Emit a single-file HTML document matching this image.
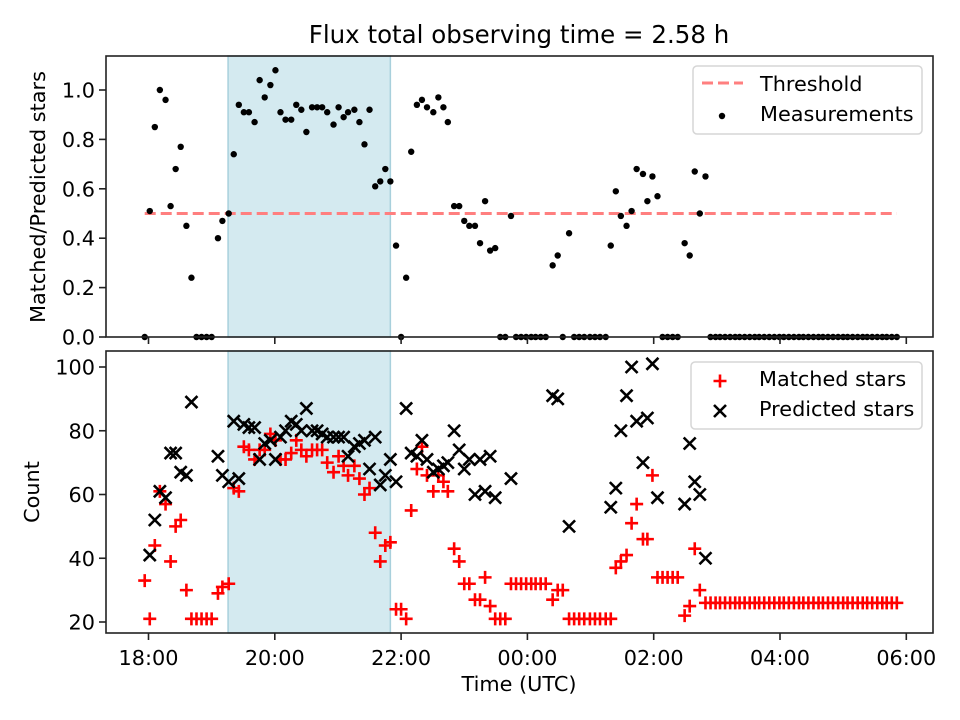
<!DOCTYPE html>
<html><head><meta charset="utf-8"><style>
html,body{margin:0;padding:0;background:#fff;}
svg{display:block;font-family:"DejaVu Sans","Liberation Sans",sans-serif;}
</style></head><body>
<svg id="fig" width="960" height="720" viewBox="0 0 960 720"></svg>
<script>
// time offsets (hours after 18:00)
const times = [-0.06,0.02,0.10,0.18,0.27,0.35,0.43,0.51,0.60,0.68,0.76,0.84,0.92,1.00,1.10,1.17,1.27,1.35,1.43,1.51,1.59,1.68,1.76,1.84,1.93,2.01,2.09,2.17,2.26,2.34,2.42,2.50,2.59,2.67,2.75,2.83,2.93,3.01,3.09,3.16,3.26,3.34,3.42,3.50,3.59,3.67,3.75,3.83,3.92,4.00,4.08,4.16,4.25,4.33,4.41,4.51,4.59,4.67,4.74,4.84,4.92,5.00,5.08,5.17,5.25,5.33,5.41,5.49,5.57,5.65,5.74,5.82,5.90,5.98,6.06,6.13,6.21,6.29,6.40,6.48,6.56,6.66,6.74,6.82,6.90,6.99,7.07,7.15,7.24,7.32,7.40,7.48,7.57,7.65,7.73,7.83,7.90,7.98,8.06,8.14,8.22,8.30,8.38,8.49,8.57,8.65,8.73,8.82,8.90,8.98,9.05,9.13,9.21,9.29,9.36,9.44,9.52,9.60,9.67,9.75,9.83,9.91,9.99,10.06,10.14,10.22,10.30,10.37,10.45,10.53,10.61,10.68,10.76,10.84,10.92,11.00,11.07,11.15,11.23,11.31,11.38,11.46,11.54,11.62,11.69,11.77,11.85];
const ratio = [0,0.51,0.85,1.00,0.96,0.53,0.68,0.77,0.45,0.24,0,0,0,0,0.40,0.47,0.50,0.74,0.94,0.91,0.91,0.87,1.04,0.97,1.02,1.08,0.91,0.88,0.88,0.94,0.92,0.83,0.93,0.93,0.93,0.91,0.86,0.93,0.89,0.91,0.92,0.87,0.78,0.92,0.61,0.63,0.68,0.63,0.37,0,0.24,0.75,0.94,0.96,0.93,0.91,0.97,0.93,0.87,0.53,0.53,0.47,0.45,0.45,0.38,0.55,0.35,0.36,0,0,0.49,0,0,0,0,0,0,0,0.29,0.33,0,0.42,0,0,0,0,0,0,0,0.37,0.59,0.49,0.45,0.51,0.68,0.66,0.55,0.65,0.57,0,0,0,0,0.38,0.33,0.67,0.50,0.65,0,0,0,0,0,0,0,0,0,0,0,0,0,0,0,0,0,0,0,0,0,0,0,0,0,0,0,0,0,0,0,0,0,0,0,0,0,0,0];
const matched = [33,21,44,61,57,39,50,52,30,21,21,21,21,21,29,31,32,62,61,75,74,71,74,74,79,77,71,71,73,77,74,72,74,74,74,70,67,72,69,66,69,65,60,62,48,39,44,45,24,24,21,55,68,75,66,61,66,64,61,43,39,32,32,27,27,34,25,21,21,21,32,32,32,32,32,32,32,32,27,30,30,21,21,21,21,21,21,21,21,21,37,39,41,51,57,46,46,66,34,34,34,34,34,22,25,43,30,26,26,26,26,26,26,26,26,26,26,26,26,26,26,26,26,26,26,26,26,26,26,26,26,26,26,26,26,26,26,26,26,26,26,26,26,26,26,26,26];
const predicted = [null,41,52,61,59,73,73,67,66,89,null,null,null,null,72,66,64,83,65,82,81,81,71,76,77,71,78,80,83,82,80,87,80,80,79,78,78,78,78,72,75,76,77,68,78,63,66,71,64,null,87,73,72,77,71,67,68,69,70,80,74,68,71,60,71,61,72,59,null,null,65,null,null,null,null,null,null,null,91,90,null,50,null,null,null,null,null,null,null,56,62,80,91,100,83,70,84,101,59,null,null,null,null,57,76,64,60,40];
const xTicks = [0,2,4,6,8,10,12];
const xTickLabels = ["18:00","20:00","22:00","00:00","02:00","04:00","06:00"];
const topTicks = [0,0.2,0.4,0.6,0.8,1.0];
const topTickLabels = ["0.0","0.2","0.4","0.6","0.8","1.0"];
const botTicks = [20,40,60,80,100];
const botTickLabels = ["20","40","60","80","100"];
const threshold = 0.5;
const shadeStart = 1.26, shadeEnd = 3.83;

const NS = "http://www.w3.org/2000/svg";
const svg = document.getElementById('fig');
function el(tag, attrs, parent, text){
  const e = document.createElementNS(NS, tag);
  for (const k in attrs) e.setAttribute(k, attrs[k]);
  if (text !== undefined) e.textContent = text;
  (parent || svg).appendChild(e);
  return e;
}
const L = 106, R = 933;
const TT = 56, TB = 337, BT = 351, BB = 633;
const X = h => 148.5 + 63.15 * h;
const Yt = v => 337 - 247 * v;
const Yb = v => 622 - 3.1875 * (v - 20);

const title = el('text', {x: 519, y: 43, 'font-size': 24.5, 'text-anchor': 'middle', fill: '#000'}, svg, 'Flux total observing time = 2.58 h');



function panel(name, top, bottom){
  const g = el('g', {});
  
  
  const sh = el('rect', {x: X(shadeStart), y: top, width: X(shadeEnd) - X(shadeStart), height: bottom - top, fill: '#d4eaf0', stroke: '#a8d0dc', 'stroke-width': 1.5}, g);
  
  
  return g;
}
function frame(g, top, bottom){
  const f = el('rect', {x: L, y: top, width: R - L, height: bottom - top, fill: 'none', stroke: '#222', 'stroke-width': 1.6}, g);
  
  
  xTicks.forEach((t, i) => {
    const tk = el('line', {x1: X(t), x2: X(t), y1: bottom, y2: bottom + 7, stroke: '#222', 'stroke-width': 1.6}, g);
    
    
  });
}

// ---- top panel ----
const gTop = panel('top-panel', TT, TB);
const th = el('line', {x1: X(times[0]), x2: X(times[times.length - 1]), y1: Yt(threshold), y2: Yt(threshold), stroke: '#ff7f7f', 'stroke-width': 3, 'stroke-dasharray': '11,5'}, gTop);


ratio.forEach((v, i) => {
  const c = el('circle', {cx: X(times[i]), cy: Yt(v), r: 3.2, fill: '#000'}, gTop);
  
  
});
frame(gTop, TT, TB);
topTicks.forEach((t, i) => {
  const tk = el('line', {x1: L - 7, x2: L, y1: Yt(t), y2: Yt(t), stroke: '#222', 'stroke-width': 1.6}, gTop);
  
  
  const lb = el('text', {x: L - 11, y: Yt(t) + 7.5, 'font-size': 20.8, 'text-anchor': 'end'}, gTop, topTickLabels[i]);
  
  
});
const ylt = el('text', {x: 0, y: 0, 'font-size': 20.8, 'text-anchor': 'middle', transform: 'translate(45,197) rotate(-90)'}, gTop, 'Matched/Predicted stars');



const lgT = el('g', {});


el('rect', {x: 693, y: 66, width: 229, height: 68, rx: 4, fill: '#fff', 'fill-opacity': 0.8, stroke: '#d6d6d6', 'stroke-width': 1.5}, lgT);
el('line', {x1: 702, x2: 743, y1: 83, y2: 83, stroke: '#ff7f7f', 'stroke-width': 3, 'stroke-dasharray': '11,5'}, lgT);
el('circle', {cx: 722, cy: 116, r: 3.2, fill: '#000'}, lgT);
const lt1 = el('text', {x: 760, y: 91, 'font-size': 20.8}, lgT, 'Threshold');


const lt2 = el('text', {x: 760, y: 121, 'font-size': 20.8}, lgT, 'Measurements');



// ---- bottom panel ----
const gBot = panel('bottom-panel', BT, BB);
function plus(g, x, y){
  return el('path', {d: `M${x-6.5},${y}H${x+6.5}M${x},${y-6.5}V${y+6.5}`, stroke: '#ff0000', 'stroke-width': 2.6, fill: 'none'}, g);
}
function cross(g, x, y){
  return el('path', {d: `M${x-6},${y-6}L${x+6},${y+6}M${x-6},${y+6}L${x+6},${y-6}`, stroke: '#000', 'stroke-width': 2.6, fill: 'none'}, g);
}
matched.forEach((v, i) => {
  const p = plus(gBot, X(times[i]), Yb(v));
  
  
});
predicted.forEach((v, i) => {
  if (v === null || v === undefined) return;
  const p = cross(gBot, X(times[i]), Yb(v));
  
  
});
frame(gBot, BT, BB);
botTicks.forEach((t, i) => {
  const tk = el('line', {x1: L - 7, x2: L, y1: Yb(t), y2: Yb(t), stroke: '#222', 'stroke-width': 1.6}, gBot);
  
  
  const lb = el('text', {x: L - 11, y: Yb(t) + 7.5, 'font-size': 20.8, 'text-anchor': 'end'}, gBot, botTickLabels[i]);
  
  
});
xTicks.forEach((t, i) => {
  const lb = el('text', {x: X(t), y: BB + 32, 'font-size': 20.8, 'text-anchor': 'middle'}, gBot, xTickLabels[i]);
  
  
});
const ylb = el('text', {x: 0, y: 0, 'font-size': 20.8, 'text-anchor': 'middle', transform: 'translate(39,492) rotate(-90)'}, gBot, 'Count');


const xl = el('text', {x: 519, y: 691, 'font-size': 20.8, 'text-anchor': 'middle'}, gBot, 'Time (UTC)');



const lgB = el('g', {});


el('rect', {x: 691, y: 362, width: 231, height: 67, rx: 4, fill: '#fff', 'fill-opacity': 0.8, stroke: '#d6d6d6', 'stroke-width': 1.5}, lgB);
plus(lgB, 720, 381);
cross(lgB, 720, 411);
const lb1 = el('text', {x: 759, y: 386, 'font-size': 20.8}, lgB, 'Matched stars');


const lb2 = el('text', {x: 759, y: 416, 'font-size': 20.8}, lgB, 'Predicted stars');


</script>
</body></html>
